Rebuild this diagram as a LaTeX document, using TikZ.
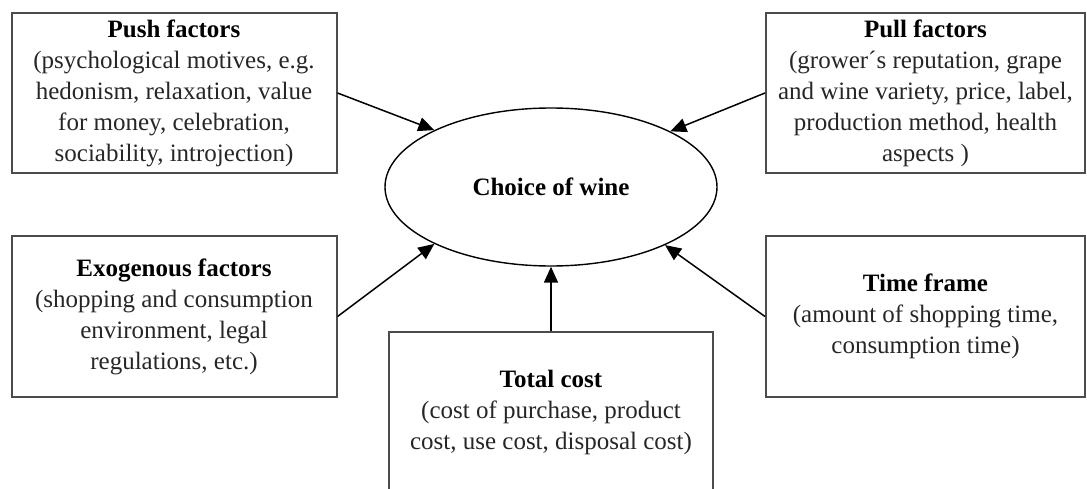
\documentclass[tikz,border=0pt]{standalone}
\usepackage{fontspec}
\setmainfont{Liberation Serif}
\usetikzlibrary{arrows.meta,shapes.geometric}
\begin{document}
\begin{tikzpicture}[x=1pt,y=-1pt,
  box/.style={draw=black!70, line width=2pt, rectangle, inner sep=0pt, minimum height=160pt, align=center, text=black!85, font=\fontsize{25}{31}\selectfont},
  oval/.style={draw=black, line width=1.4pt, ellipse, inner sep=0pt, minimum width=332pt, minimum height=158pt, font=\fontsize{25}{31}\selectfont\bfseries},
  arr/.style={draw=black, line width=1.5pt, -{Triangle[length=16pt,width=14pt]}}]
\useasboundingbox (0,0) rectangle (1087,489);
\clip (0,0) rectangle (1087,489);
\node[oval] (ell) at (551,187) {Choice of wine};
\node[box, minimum width=325pt] (push) at (174,93) {\textbf{\color{black}Push factors}\\(psychological motives, e.g.\\hedonism, relaxation, value\\for money, celebration,\\sociability, introjection)};
\node[box, minimum width=319pt] (pull) at (925.5,93) {\textbf{\color{black}Pull factors}\\(grower´s reputation, grape\\and wine variety, price, label,\\production method, health\\aspects )};
\node[box, minimum width=325pt] (exo) at (174,316.5) {\textbf{\color{black}Exogenous factors}\\(shopping and consumption\\environment, legal\\regulations, etc.)};
\node[box, minimum width=319pt] (time) at (925.5,316.5) {\textbf{\color{black}Time frame}\\(amount of shopping time,\\consumption time)};
\node[box, minimum width=324pt] (total) at (551,412) {\textbf{\color{black}Total cost}\\(cost of purchase, product\\cost, use cost, disposal cost)};
\draw[arr] (push.east) -- (ell.154.6);
\draw[arr] (pull.west) -- (ell.25.4);
\draw[arr] (exo.east) -- (ell.206.6);
\draw[arr] (time.west) -- (ell.333.6);
\draw[arr] (total.north) -- (ell.south);
\end{tikzpicture}
\end{document}
